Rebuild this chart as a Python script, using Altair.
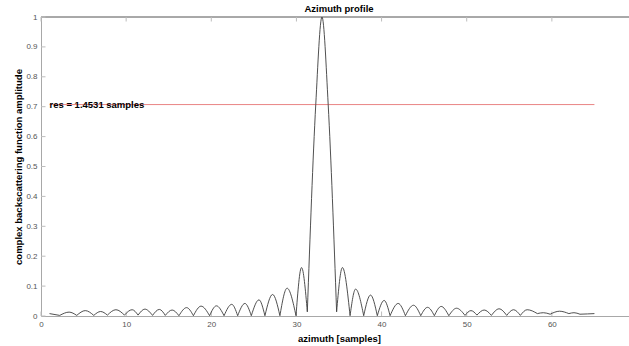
import altair as alt
import pandas as pd

# Azimuth profile key points: alternating nulls and lobe peaks,
# the main lobe also passing through its -3 dB points.
az = [1.0, 2.2, 3.3, 4.2, 5.2, 6.2, 7.0, 7.8, 8.8, 9.8, 10.7, 11.4, 12.2, 13.1,
      13.9, 14.6, 15.4, 16.2, 17.1, 17.9, 18.8, 19.8, 20.6, 21.5, 22.4, 23.1,
      23.95, 24.7, 25.6, 26.3, 27.2, 28.06, 28.9, 29.95, 30.6, 31.28, 32.27,
      33.0, 33.73, 34.72, 35.4, 36.3, 36.95, 37.9, 38.7, 39.5, 40.3, 41.0,
      41.95, 42.8, 43.75, 44.6, 45.4, 46.2, 47.0, 47.9, 48.8, 49.8, 50.5, 51.2,
      52.05, 52.9, 53.8, 54.7, 55.5, 56.3, 57.1, 58.3, 59.0, 59.8, 60.9, 62.0,
      62.6, 63.3, 64.2, 65.0]
amp = [0.008, 0.002, 0.013, 0.002, 0.018, 0.002, 0.015, 0.003, 0.021, 0.003,
       0.021, 0.003, 0.023, 0.002, 0.022, 0.002, 0.020, 0.001, 0.028, 0.001,
       0.033, 0.001, 0.034, 0.001, 0.039, 0.001, 0.042, 0.001, 0.054, 0.001,
       0.072, 0.001, 0.093, 0.001, 0.162, 0.014, 0.7071, 1.0, 0.7071, 0.014,
       0.162, 0.001, 0.090, 0.001, 0.070, 0.001, 0.052, 0.001, 0.042, 0.001,
       0.036, 0.001, 0.029, 0.001, 0.032, 0.001, 0.026, 0.002, 0.018, 0.003,
       0.020, 0.002, 0.024, 0.002, 0.021, 0.002, 0.021, 0.008, 0.011, 0.006,
       0.016, 0.008, 0.011, 0.006, 0.007, 0.008]

# Resolution marker (-3 dB level)
res_level = 0.7071
res_label = "res = 1.4531 samples"
res_start = 1
res_end = 65

x_ticks = [0, 10, 20, 30, 40, 50, 60]
y_ticks = [0, 0.1, 0.2, 0.3, 0.4, 0.5, 0.6, 0.7, 0.8, 0.9, 1]

title_text = "Azimuth profile"
x_title = "azimuth [samples]"
y_title = "complex backscattering function amplitude"

W, H = 588, 299
FONT = "Liberation Sans"
AXIS_GRAY = "#a8a8a8"
TICK_GRAY = "#bdbdbd"
LABEL_GRAY = "#555555"

# Split the profile into lobes at every null so each arch is drawn on its own
rows = []
lobe = 0
for i, (x, y) in enumerate(zip(az, amp)):
    rows.append({"az": x, "amp": y, "lobe": lobe})
    if 0 < i < len(az) - 1 and y < amp[i - 1] and y < amp[i + 1]:
        lobe += 1
        rows.append({"az": x, "amp": y, "lobe": lobe})
profile = pd.DataFrame(rows)

xscale = alt.Scale(domain=[0, 69.06], nice=False, zero=False)
yscale = alt.Scale(domain=[0, 1], nice=False)

xaxis = alt.Axis(values=x_ticks, format="d", grid=False, ticks=False, tickSize=0,
                 domainColor=AXIS_GRAY, labelColor=LABEL_GRAY, labelFont=FONT,
                 labelFontSize=8, labelPadding=4, labelFlush=False,
                 title=x_title, titleFont=FONT, titleFontSize=9.5,
                 titleFontWeight="bold", titleColor="black", titleX=298, titleY=22,
                 titleAlign="center", titleBaseline="middle")
yaxis = alt.Axis(values=y_ticks, format=".1~f", grid=False, ticks=False, tickSize=0,
                 domainColor=AXIS_GRAY, labelColor=LABEL_GRAY, labelFont=FONT,
                 labelFontSize=8, labelPadding=4, labelFlush=False,
                 title=y_title, titleFont=FONT, titleFontSize=9.5,
                 titleFontWeight="bold", titleColor="black", titleX=-23,
                 titleY=H / 2, titleAngle=270, titleAlign="center",
                 titleBaseline="middle")


def X(field):
    return alt.X(field, type="quantitative", scale=xscale, axis=xaxis)


def Y(field):
    return alt.Y(field, type="quantitative", scale=yscale, axis=yaxis)


xt = pd.DataFrame({"v": x_ticks})
yt = pd.DataFrame({"v": y_ticks})

bottom_ticks = alt.Chart(xt).mark_rule(color=TICK_GRAY, strokeWidth=1).encode(
    x=X("v"), y=alt.value(H), y2=alt.value(H - 4.5))
top_ticks = alt.Chart(xt).mark_rule(color=TICK_GRAY, strokeWidth=1).encode(
    x=X("v"), y=alt.value(0), y2=alt.value(4.5))
left_ticks = alt.Chart(yt).mark_rule(color=TICK_GRAY, strokeWidth=1).encode(
    y=Y("v"), x=alt.value(0), x2=alt.value(4.5))
top_border = alt.Chart(xt).mark_rule(color=AXIS_GRAY, strokeWidth=1).encode(
    x=alt.value(0), x2=alt.value(W), y=alt.value(0))

res_df = pd.DataFrame({"x1": [res_start], "x2": [res_end], "y": [res_level],
                       "label": [res_label]})
res_line = alt.Chart(res_df).mark_rule(color="#e98585", strokeWidth=1).encode(
    x=X("x1"), x2="x2:Q", y=Y("y"))

curve = alt.Chart(profile).mark_line(
    interpolate="monotone", color="#3c3c3c", strokeWidth=0.9
).encode(x=X("az"), y=Y("amp"), detail="lobe:N", order="az:Q")

res_text = alt.Chart(res_df).mark_text(
    align="left", baseline="middle", font=FONT, fontSize=9.5,
    fontWeight="bold", color="black", dx=0
).encode(x=X("x1"), y=Y("y"), text="label:N")

title = alt.Chart(pd.DataFrame({"t": [title_text]})).mark_text(
    align="center", baseline="middle", font=FONT, fontSize=9.5,
    fontWeight="bold", color="black"
).encode(x=alt.value(298), y=alt.value(-8), text="t:N")

chart = alt.layer(
    top_border, bottom_ticks, top_ticks, left_ticks, res_line, curve, res_text, title
).properties(
    width=W, height=H,
    padding={"left": 41, "top": 17, "right": 0, "bottom": 30},
    autosize=alt.AutoSizeParams(type="none"),
    background="white",
).configure_view(stroke=None)

chart.save("out.html", embed_options={"renderer": "svg", "actions": False})
